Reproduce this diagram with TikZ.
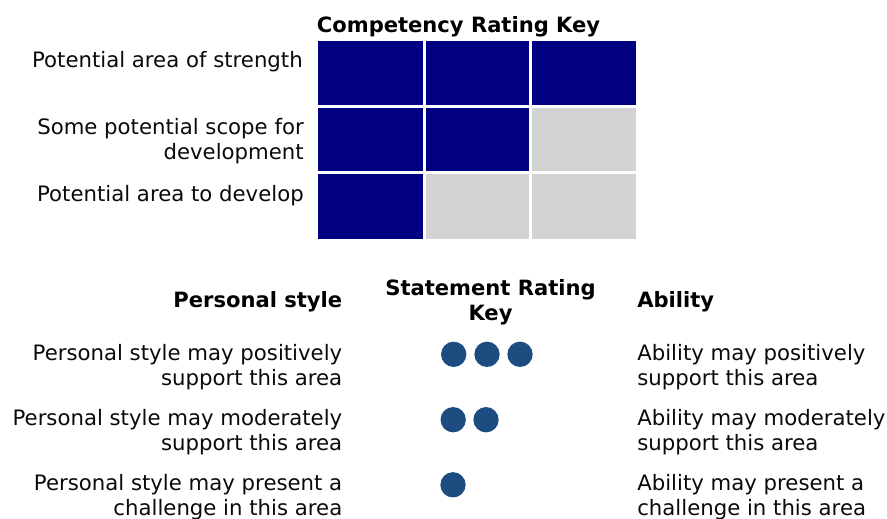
\documentclass[tikz,border=0pt]{standalone}
\usepackage{fontspec}
\setmainfont{DejaVu Sans}
\definecolor{navy}{RGB}{0,0,128}
\definecolor{lgray}{RGB}{211,211,211}
\definecolor{dotblue}{RGB}{29,76,128}
\definecolor{txt}{RGB}{10,10,10}
\tikzset{x=0.75pt,y=-0.75pt,
 txtstyle/.style={inner sep=0pt,font=\fontsize{15.93}{20}\selectfont,text=txt},
 ltxt/.style={txtstyle,anchor=base east,align=right},
 rtxt/.style={txtstyle,anchor=base west,align=left},
 head/.style={inner sep=0pt,font=\fontsize{15.8}{20}\selectfont\bfseries,text=black},
 dotmark/.style={circle,fill=dotblue,draw=none,minimum size=19pt,inner sep=0pt}}
\begin{document}
\begin{tikzpicture}
\useasboundingbox (0,0) rectangle (887,518);
\node[head,anchor=base] (t1) at (458.5,32) {Competency Rating Key};
\node[ltxt] (a1) at (303,67) {Potential area of strength};
\node[ltxt] (a2) at (304,134) {Some potential scope for};
\node[ltxt] (a2b) at (304,159) {development};
\node[ltxt] (a3) at (304,201) {Potential area to develop};
\fill[navy] (318,41) rectangle (423,105);
\fill[navy] (426,41) rectangle (529,105);
\fill[navy] (532,41) rectangle (636,105);
\fill[navy] (318,108) rectangle (423,171);
\fill[navy] (426,108) rectangle (529,171);
\fill[lgray] (532,108) rectangle (636,171);
\fill[navy] (318,174) rectangle (423,239);
\fill[lgray] (426,174) rectangle (529,239);
\fill[lgray] (532,174) rectangle (636,239);
\node[head,anchor=base east] (p) at (342.5,307) {Personal style};
\node[head,anchor=base] (s1) at (490.5,295) {Statement Rating};
\node[head,anchor=base] (s2) at (490.5,320) {Key};
\node[head,anchor=base west] (ab) at (637,307) {Ability};
\node[ltxt] (l1) at (342.5,360) {Personal style may positively};
\node[ltxt] (l1b) at (342.5,385) {support this area};
\node[ltxt] (l2) at (342.5,425) {Personal style may moderately};
\node[ltxt] (l2b) at (342.5,450) {support this area};
\node[ltxt] (l3) at (342.5,490) {Personal style may present a};
\node[ltxt] (l3b) at (342.5,515) {challenge in this area};
\node[rtxt] (r1) at (637,360) {Ability may positively};
\node[rtxt] (r1b) at (637,385) {support this area};
\node[rtxt] (r2) at (637,425) {Ability may moderately};
\node[rtxt] (r2b) at (637,450) {support this area};
\node[rtxt] (r3) at (637,490) {Ability may present a};
\node[rtxt] (r3b) at (637,515) {challenge in this area};
\node[dotmark] (d1) at (453.7,354.3) {};
\node[dotmark] (d2) at (487,354.3) {};
\node[dotmark] (d3) at (520,354.3) {};
\node[dotmark] (d4) at (453.2,419.7) {};
\node[dotmark] (d5) at (486,419.7) {};
\node[dotmark] (d6) at (453,484.8) {};
\end{tikzpicture}
\end{document}
